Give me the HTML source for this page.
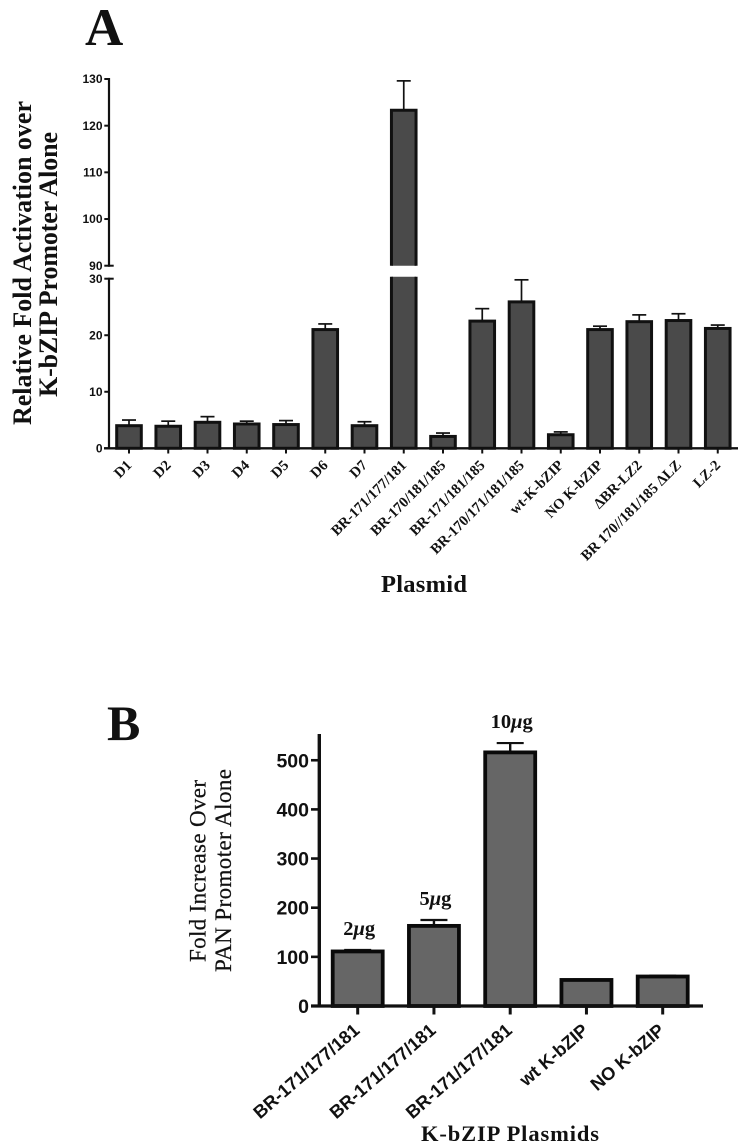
<!DOCTYPE html>
<html lang="en">
<head>
<meta charset="utf-8">
<title>K-bZIP plasmid promoter activation</title>
<style>
html,body{margin:0;padding:0;background:#fff;}
svg{display:block;}
.serif{font-family:"Liberation Serif",serif;fill:#111;}
.sans{font-family:"Liberation Sans",sans-serif;fill:#111;font-weight:bold;}
</style>
</head>
<body>
<svg id="figure" xmlns="http://www.w3.org/2000/svg" width="751" height="1147" viewBox="0 0 751 1147">
  <text class="serif" x="85" y="45" font-size="53" font-weight="bold">A</text>
  <text class="serif" x="107" y="740" font-size="50" font-weight="bold">B</text>

  <text class="serif" transform="translate(31,425) rotate(-90)" font-size="26" font-weight="bold" textLength="324" lengthAdjust="spacing">Relative Fold Activation over</text>
  <text class="serif" transform="translate(57,397) rotate(-90)" font-size="26" font-weight="bold" textLength="265" lengthAdjust="spacing">K-bZIP Promoter Alone</text>
  <text class="serif" x="381" y="592" font-size="24.5" font-weight="bold" textLength="86" lengthAdjust="spacing">Plasmid</text>

  <text class="serif" transform="translate(205.5,962) rotate(-90)" font-size="23" stroke="#111" stroke-width="0.25" textLength="182" lengthAdjust="spacing">Fold Increase Over</text>
  <text class="serif" transform="translate(231,972) rotate(-90)" font-size="23" stroke="#111" stroke-width="0.25" textLength="203" lengthAdjust="spacing">PAN Promoter Alone</text>
  <text class="serif" x="421" y="1141" font-size="22.5" font-weight="bold" textLength="178" lengthAdjust="spacing">K-bZIP Plasmids</text>

  <g id="chart-a"></g>
  <g id="chart-b"></g>
</svg>

<script>
const categoriesA = ["D1","D2","D3","D4","D5","D6","D7","BR-171/177/181","BR-170/181/185","BR-171/181/185","BR-170/171/181/185","wt-K-bZIP","NO K-bZIP","\u0394BR-LZ2","BR 170//181/185 \u0394LZ","LZ-2"];
const valuesA = [4,3.9,4.6,4.3,4.2,21,4,123.3,2.1,22.5,25.9,2.4,21,22.4,22.6,21.2];
const errorsA = [1,0.9,1,0.5,0.7,1,0.7,6.3,0.6,2.2,3.9,0.5,0.6,1.2,1.2,0.6];
const lowerTicksA = [0,10,20,30];
const upperTicksA = [90,100,110,120,130];

const categoriesB = ["BR-171/177/181","BR-171/177/181","BR-171/177/181","wt K-bZIP","NO K-bZIP"];
const valuesB = [111,163,516,53,60];
const errorsB = [3,12,19,1,1.5];
const doseLabelsB = ["2","5","10","",""];
const ticksB = [0,100,200,300,400,500];

const NS = "http://www.w3.org/2000/svg";
const chartA = document.getElementById("chart-a");
const chartB = document.getElementById("chart-b");

function shape(parent, tag, attrs) {
  const el = document.createElementNS(NS, tag);
  for (const k in attrs) el.setAttribute(k, attrs[k]);
  parent.appendChild(el);
  return el;
}

/* Chart A scales: broken y axis */
const A_BREAK_LOW = 30;
const A_BREAK_HIGH = 90;
function yA(v) {
  if (v >= A_BREAK_HIGH) return 265.7 - (v - 90) * (265.7 - 79) / 40;
  return 448.3 - v * (448.3 - 278.7) / 30;
}
function xA(i) { return 129 + i * 39.25; }

/* Chart B scales */
function yB(v) { return 1006 - v * 0.4915; }
function xB(i) { return 357.7 + i * 76.25; }

/* ---------- Chart A ---------- */
categoriesA.forEach(function (name, i) {
  const cx = xA(i);
  const halfW = 12.3;
  const sw = 3;
  const top = yA(valuesA[i]);
  const g = shape(chartA, "g", {});
  
  

  const errTop = yA(valuesA[i] + errorsA[i]);
  const stem = shape(g, "line", {x1:cx, x2:cx, y1:top, y2:errTop, stroke:"#111", "stroke-width":1.7});
  
  
  const cap = shape(g, "line", {x1:cx-7, x2:cx+7, y1:errTop, y2:errTop, stroke:"#111", "stroke-width":1.7});
  
  

  if (valuesA[i] >= A_BREAK_HIGH) {
    const breakTop = yA(A_BREAK_HIGH);
    const breakBottom = yA(A_BREAK_LOW) - 2;
    const upper = shape(g, "path", {d:"M"+(cx-halfW)+" "+breakTop+"V"+top+"H"+(cx+halfW)+"V"+breakTop, fill:"#4a4a4a", stroke:"#111", "stroke-width":sw});
    
    
    const lower = shape(g, "path", {d:"M"+(cx-halfW)+" "+breakBottom+"V448.3H"+(cx+halfW)+"V"+breakBottom, fill:"#4a4a4a", stroke:"#111", "stroke-width":sw});
    
    
  } else {
    const bar = shape(g, "rect", {x:cx-halfW, y:top, width:halfW*2, height:448.3-top, fill:"#4a4a4a", stroke:"#111", "stroke-width":sw});
    
    
  }

  const tick = shape(g, "line", {x1:cx, x2:cx, y1:448, y2:453.5, stroke:"#111", "stroke-width":2});
  
  

  const label = shape(g, "text", {"class":"serif", "font-size":14.7, "font-weight":"bold", "text-anchor":"end", transform:"translate("+(cx+3.5)+",466) rotate(-45)"});
  
  
  label.textContent = name;
});

const axisAUpper = shape(chartA, "line", {x1:109, x2:109, y1:yA(130)-1, y2:yA(90)+1, stroke:"#111", "stroke-width":2.2});


const axisALower = shape(chartA, "line", {x1:109, x2:109, y1:yA(30)-1, y2:449.5, stroke:"#111", "stroke-width":2.2});


const axisAX = shape(chartA, "line", {x1:104, x2:738, y1:448.3, y2:448.3, stroke:"#111", "stroke-width":2.4});



upperTicksA.concat(lowerTicksA).forEach(function (v) {
  const y = yA(v);
  const isBreakEdge = (v === A_BREAK_HIGH || v === A_BREAK_LOW);
  const t = shape(chartA, "line", {x1:104.3, x2:isBreakEdge ? 113.7 : 109, y1:y, y2:y, stroke:"#111", "stroke-width":2});
  
  
  const lbl = shape(chartA, "text", {"class":"sans", x:102.5, y:y+4.2, "font-size":12, "text-anchor":"end"});
  
  
  lbl.textContent = v;
});

/* ---------- Chart B ---------- */
categoriesB.forEach(function (name, i) {
  const cx = xB(i);
  const halfW = 25;
  const top = yB(valuesB[i]);
  const g = shape(chartB, "g", {});
  
  

  const errTop = yB(valuesB[i] + errorsB[i]);
  const stem = shape(g, "line", {x1:cx, x2:cx, y1:top, y2:errTop, stroke:"#111", "stroke-width":2.4});
  
  
  const cap = shape(g, "line", {x1:cx-13.5, x2:cx+13.5, y1:errTop, y2:errTop, stroke:"#111", "stroke-width":2.2});
  
  

  const bar = shape(g, "rect", {x:cx-halfW, y:top, width:halfW*2, height:1006-top, fill:"#666", stroke:"#0a0a0a", "stroke-width":3.8});
  
  

  const tick = shape(g, "line", {x1:cx, x2:cx, y1:1006, y2:1014.5, stroke:"#111", "stroke-width":3});
  
  

  const label = shape(g, "text", {"class":"sans", "font-size":18.2, "text-anchor":"end", transform:"translate("+(cx+3)+",1032) rotate(-41)"});
  
  
  label.textContent = name;

  if (doseLabelsB[i]) {
    const dose = shape(g, "text", {"class":"serif", x:cx+1.5, y:errTop-15, "font-size":20.5, "font-weight":"bold", "text-anchor":"middle"});
    
    
    dose.appendChild(document.createTextNode(doseLabelsB[i]));
    const mu = shape(dose, "tspan", {"font-style":"italic"});
    
    
    mu.textContent = "\u03BC";
    dose.appendChild(document.createTextNode("g"));
  }
});

const axisBY = shape(chartB, "line", {x1:319.3, x2:319.3, y1:734, y2:1007.5, stroke:"#111", "stroke-width":3.4});


const axisBX = shape(chartB, "line", {x1:311, x2:703, y1:1006, y2:1006, stroke:"#111", "stroke-width":3.2});



ticksB.forEach(function (v) {
  const y = yB(v);
  const t = shape(chartB, "line", {x1:311, x2:319, y1:y, y2:y, stroke:"#111", "stroke-width":2.6});
  
  
  const lbl = shape(chartB, "text", {"class":"sans", x:309, y:y+7, "font-size":19.5, "text-anchor":"end"});
  
  
  lbl.textContent = v;
});
</script>
</body>
</html>
